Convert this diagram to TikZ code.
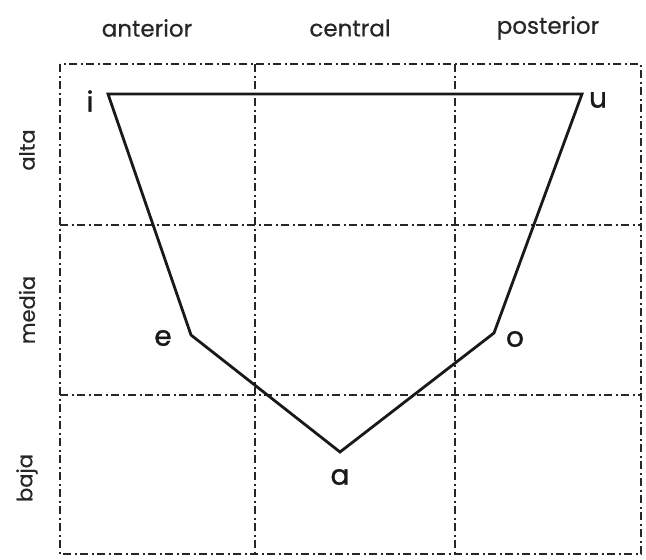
\documentclass[tikz,border=0pt]{standalone}
\usepackage{fontspec}
\setmainfont{Poppins}
\newfontfamily\vowfont[FakeBold=1.2]{Poppins}
\newfontfamily\labfont[FakeBold=0.6]{Poppins}
\begin{document}
\begin{tikzpicture}[x=1pt,y=-1pt,
  grid/.style={line width=2.6pt,draw=black!85,dash pattern=on 8pt off 3.5pt on 2pt off 3.5pt},
  chart/.style={line width=2.8pt,draw=black!90,line join=miter},
  head/.style={font=\labfont\fontsize{23}{23}\selectfont,text=black!85},
  side/.style={font=\labfont\fontsize{21}{21}\selectfont,text=black!85,rotate=90},
  vow/.style={font=\vowfont\fontsize{28}{28}\selectfont,text=black!90}]
\useasboundingbox (0,0) rectangle (646,560);
% grid
\draw[grid] (60,64) rectangle (641,554);
\draw[grid] (255,64) -- (255,554);
\draw[grid] (455,64) -- (455,554);
\draw[grid] (60,225) -- (641,225);
\draw[grid] (60,395) -- (641,395);
% headings
\node[head] (ant) at (147,28) {anterior};
\node[head] (cen) at (350,28) {central};
\node[head] (pos) at (548,28) {posterior};
\node[side] (alta) at (27,150) {alta};
\node[side] (media) at (27,310) {media};
\node[side] (baja) at (27,478) {baja};
% vertices
\coordinate (vi) at (108,94);
\coordinate (vu) at (582,94);
\coordinate (ve) at (191,335);
\coordinate (vo) at (494,333);
\coordinate (va) at (340,452);
\draw[chart] (vi) -- (vu) -- (vo) -- (va) -- (ve) -- cycle;
% vowel labels
\node[vow] (li) at (90,101) {i};
\node[vow] (lu) at (598,100) {u};
\node[vow] (le) at (163,338) {e};
\node[vow] (lo) at (515,339) {o};
\node[vow] (la) at (340,477) {a};
\end{tikzpicture}
\end{document}
